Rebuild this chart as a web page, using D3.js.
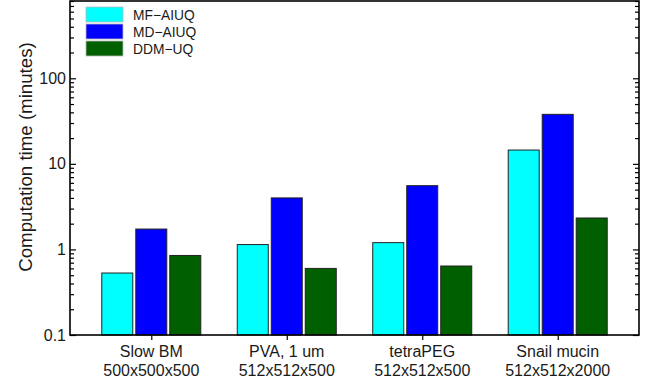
<!DOCTYPE html>
<html>
<head>
<meta charset="utf-8">
<script src="https://cdn.jsdelivr.net/npm/d3@7/dist/d3.min.js"></script>
<style>
  html, body { margin: 0; padding: 0; background: #fff; }
  svg { display: block; font-family: "Liberation Sans", Arial, sans-serif; }
</style>
</head>
<body>
<svg id="chart" width="660" height="381"></svg>
<script>
// Datasets (two-line labels: sample name / volume size)
const categories = ["Slow BM", "PVA, 1 um", "tetraPEG", "Snail mucin"];
const sizes = ["500x500x500", "512x512x500", "512x512x500", "512x512x2000"];
const series = ["MF−AIUQ", "MD−AIUQ", "DDM−UQ"];
const colors = ["#00ffff", "#0000ff", "#006000"];

// Computation time in minutes, one array per method
const mfAiuq = [0.53, 1.14, 1.20, 14.5];
const mdAiuq = [1.73, 4.0, 5.56, 37.9];
const ddmUq = [0.85, 0.60, 0.64, 2.33];
const values = [mfAiuq, mdAiuq, ddmUq];

const yTickValues = [0.1, 1, 10, 100];
const yTickLabels = ["0.1", "1", "10", "100"];

const svg = d3.select("#chart");
const plotL = 70, plotR = 639, plotT = 1, plotB = 335;

const x = d3.scalePoint().domain(categories).range([plotL, plotR]).padding(0.6);
const xs = d3.scaleBand().domain(series).range([-49.5, 49.5]).paddingInner(3 / 34);
const y = d3.scaleLog().domain([0.1, 800]).range([plotB, plotT]);

// bars
series.forEach((s, si) => {
  svg.append("g")
    .selectAll("rect")
    .data(values[si])
    .join("rect")
    .attr("x", (d, i) => x(categories[i]) + xs(s))
    .attr("width", xs.bandwidth())
    .attr("y", d => y(d))
    .attr("height", d => plotB - y(d))
    .attr("fill", colors[si])
    .attr("stroke", "#222")
    .attr("stroke-width", 1);
});

// minor tick values for the log axis
const minor = [];
for (let e = -1; e <= 2; e++) {
  for (let m = 2; m <= 9; m++) {
    const v = m * Math.pow(10, e);
    if (v <= 800) minor.push(v);
  }
}

// left axis: inward ticks, labels drawn separately
const leftAxis = svg.append("g").attr("transform", `translate(${plotL},0)`);
leftAxis.call(d3.axisRight(y).tickValues(yTickValues).tickSize(6).tickFormat(""));
leftAxis.append("g").call(d3.axisRight(y).tickValues(minor).tickSize(4).tickFormat(""));
leftAxis.selectAll("path.domain").remove();
leftAxis.selectAll(".tick line").attr("stroke", "#000").attr("stroke-width", 1.2);

const rightAxis = svg.append("g").attr("transform", `translate(${plotR},0)`);
rightAxis.call(d3.axisLeft(y).tickValues(yTickValues).tickSize(6).tickFormat(""));
rightAxis.append("g").call(d3.axisLeft(y).tickValues(minor).tickSize(4).tickFormat(""));
rightAxis.selectAll("path.domain").remove();
rightAxis.selectAll(".tick line").attr("stroke", "#000").attr("stroke-width", 1.2);

// y tick labels
svg.append("g").selectAll("text")
  .data(yTickValues)
  .join("text")
  .attr("x", plotL - 4)
  .attr("y", d => y(d))
  .attr("dy", "0.35em")
  .attr("text-anchor", "end")
  .attr("font-size", 16)
  .attr("fill", "#1a1a1a")
  .text((d, i) => yTickLabels[i]);

// bottom axis ticks
const bottomAxis = svg.append("g").attr("transform", `translate(0,${plotB})`);
bottomAxis.call(d3.axisBottom(x).tickSize(5).tickFormat(""));
bottomAxis.selectAll("path.domain").remove();
bottomAxis.selectAll(".tick line").attr("stroke", "#000").attr("stroke-width", 1.2);

// category labels (two lines)
const catLabels = svg.append("g").selectAll("text")
  .data(categories)
  .join("text")
  .attr("text-anchor", "middle")
  .attr("font-size", 16)
  .attr("fill", "#1a1a1a");
catLabels.append("tspan").attr("x", d => x(d)).attr("y", 357).text(d => d);
catLabels.append("tspan").attr("x", d => x(d)).attr("y", 376).text((d, i) => sizes[i]);

// frame
svg.append("rect")
  .attr("x", plotL).attr("y", plotT)
  .attr("width", plotR - plotL).attr("height", plotB - plotT)
  .attr("fill", "none").attr("stroke", "#000").attr("stroke-width", 1.6);

// y axis title
svg.append("text")
  .attr("transform", "translate(32,157) rotate(-90)")
  .attr("text-anchor", "middle")
  .attr("font-size", 18.7)
  .attr("fill", "#1a1a1a")
  .text("Computation time (minutes)");

// legend
const legend = svg.append("g");
series.forEach((s, i) => {
  const ly = 7 + i * 17;
  legend.append("rect")
    .attr("x", 86).attr("y", ly).attr("width", 37).attr("height", 15)
    .attr("fill", colors[i]).attr("stroke", "#bbb").attr("stroke-width", 0.8);
  legend.append("text")
    .attr("x", 133).attr("y", ly + 12.5)
    .attr("font-size", 13.8)
    .attr("fill", "#1a1a1a")
    .text(s);
});
</script>
</body>
</html>
